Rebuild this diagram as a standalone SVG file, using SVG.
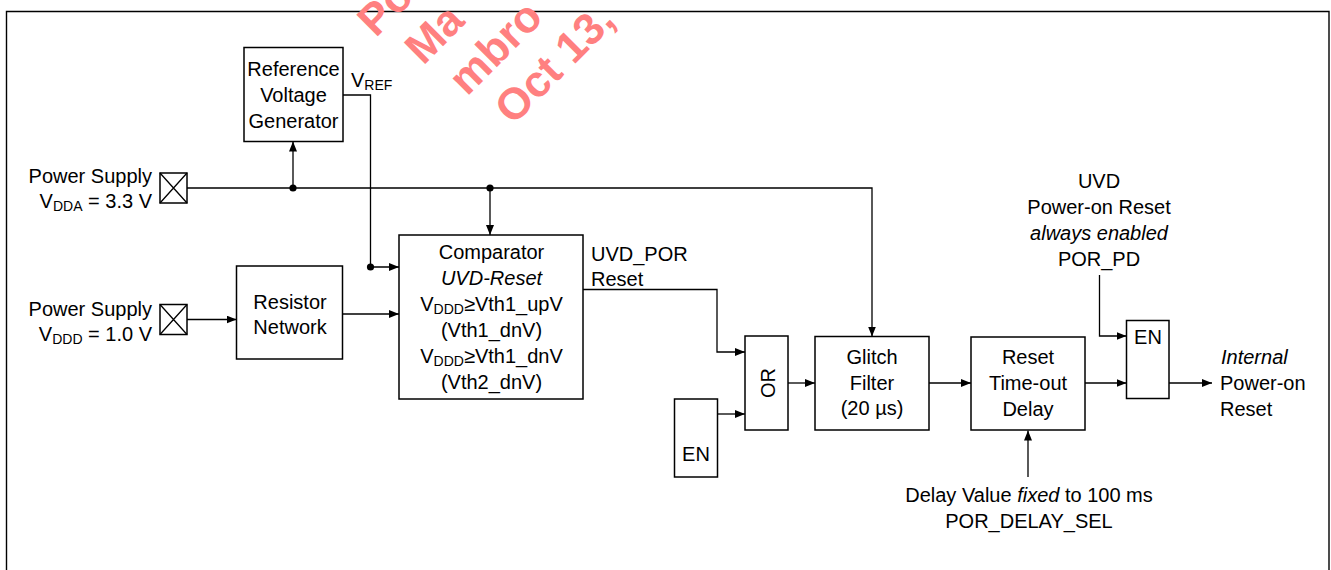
<svg xmlns="http://www.w3.org/2000/svg" width="1331" height="570" viewBox="0 0 1331 570">
<defs>
<style>
.t{font-family:"Liberation Sans",Arial,sans-serif;font-size:20px;fill:#000}
.m{text-anchor:middle}
.e{text-anchor:end}
.i{font-style:italic}
.box{fill:#fff;stroke:#000;stroke-width:1.5}
.ln{fill:none;stroke:#000;stroke-width:1.3}
.wm{font-family:"Liberation Sans",Arial,sans-serif;font-size:44px;font-weight:bold;fill:#ff8080}
</style>
<marker id="arr" markerUnits="userSpaceOnUse" markerWidth="10" markerHeight="8" refX="10" refY="4" orient="auto">
<path d="M0,0 L10,4 L0,8 z" fill="#000"/>
</marker>
</defs>
<rect width="1331" height="570" fill="#fff"/>
<path d="M6.5,575 V11.5 H1329 V575" fill="none" stroke="#000" stroke-width="1.4"/>

<g id="connectors">
<path class="ln" d="M187,188 H872 V336.5" marker-end="url(#arr)"/>
<path class="ln" d="M293,188 V141.5" marker-end="url(#arr)"/>
<path class="ln" d="M490,188 V235" marker-end="url(#arr)"/>
<path class="ln" d="M343,95 H370.5 V267 H399" marker-end="url(#arr)"/>
<path class="ln" d="M187,319.5 H236.5" marker-end="url(#arr)"/>
<path class="ln" d="M343,314 H399" marker-end="url(#arr)"/>
<path class="ln" d="M583,289.5 H717 V352 H745" marker-end="url(#arr)"/>
<path class="ln" d="M717,414 H745" marker-end="url(#arr)"/>
<path class="ln" d="M788,383 H815" marker-end="url(#arr)"/>
<path class="ln" d="M929,383 H971" marker-end="url(#arr)"/>
<path class="ln" d="M1085,383 H1126.5" marker-end="url(#arr)"/>
<path class="ln" d="M1099.5,275 V336 H1126.5" marker-end="url(#arr)"/>
<path class="ln" d="M1169,383 H1212" marker-end="url(#arr)"/>
<path class="ln" d="M1028,477 V430.5" marker-end="url(#arr)"/>
<circle cx="293" cy="188" r="3.6" fill="#000"/>
<circle cx="490" cy="188" r="3.6" fill="#000"/>
<circle cx="370.5" cy="267" r="3.6" fill="#000"/>
</g>

<g id="vdda">
<rect class="box" x="160" y="173" width="27" height="30"/>
<path class="ln" d="M160,173 L187,203 M187,173 L160,203"/>
<text class="t e" x="152" y="183">Power Supply</text>
<text class="t e" x="152" y="208">V<tspan font-size="14" dy="3">DDA</tspan><tspan dy="-3"> = 3.3 V</tspan></text>
</g>

<g id="vdd">
<rect class="box" x="160" y="304.5" width="27" height="30"/>
<path class="ln" d="M160,304.5 L187,334.5 M187,304.5 L160,334.5"/>
<text class="t e" x="152" y="316">Power Supply</text>
<text class="t e" x="152" y="341">V<tspan font-size="14" dy="3">DDD</tspan><tspan dy="-3"> = 1.0 V</tspan></text>
</g>

<g id="refgen">
<rect class="box" x="244" y="47.5" width="99" height="94"/>
<text class="t m" x="293.5" y="76">Reference</text>
<text class="t m" x="293.5" y="102">Voltage</text>
<text class="t m" x="293.5" y="128">Generator</text>
<text class="t" x="351" y="87">V<tspan font-size="14" dy="3">REF</tspan></text>
</g>

<g id="resistor">
<rect class="box" x="236.5" y="266" width="106" height="93"/>
<text class="t m" x="290" y="309">Resistor</text>
<text class="t m" x="290" y="334">Network</text>
</g>

<g id="comparator">
<rect class="box" x="399" y="235" width="184" height="164"/>
<text class="t m" x="491.5" y="259">Comparator</text>
<text class="t m i" x="491.5" y="285">UVD-Reset</text>
<text class="t m" x="491.5" y="311">V<tspan font-size="14" dy="3">DDD</tspan><tspan dy="-3">≥Vth1_upV</tspan></text>
<text class="t m" x="491.5" y="337">(Vth1_dnV)</text>
<text class="t m" x="491.5" y="363">V<tspan font-size="14" dy="3">DDD</tspan><tspan dy="-3">≥Vth1_dnV</tspan></text>
<text class="t m" x="491.5" y="389">(Vth2_dnV)</text>
<text class="t" x="591" y="261">UVD_POR</text>
<text class="t" x="591" y="286">Reset</text>
</g>

<g id="en1">
<rect class="box" x="674.5" y="399" width="43" height="78"/>
<text class="t m" x="696" y="461">EN</text>
</g>

<g id="or">
<rect class="box" x="745" y="336" width="43" height="94"/>
<text class="t m" transform="translate(775,383) rotate(-90)" x="0" y="0">OR</text>
</g>

<g id="glitch">
<rect class="box" x="815" y="336.5" width="114" height="93.5"/>
<text class="t m" x="872" y="364">Glitch</text>
<text class="t m" x="872" y="390">Filter</text>
<text class="t m" x="872" y="415">(20 µs)</text>
</g>

<g id="delay">
<rect class="box" x="971" y="337" width="114" height="93"/>
<text class="t m" x="1028" y="364">Reset</text>
<text class="t m" x="1028" y="390">Time-out</text>
<text class="t m" x="1028" y="416">Delay</text>
<text class="t m" x="1029" y="502">Delay Value <tspan class="i">fixed</tspan> to 100 ms</text>
<text class="t m" x="1029" y="528">POR_DELAY_SEL</text>
</g>

<g id="en2">
<rect class="box" x="1126.5" y="320.5" width="42.5" height="78"/>
<text class="t m" x="1148" y="344">EN</text>
<text class="t m" x="1099" y="188">UVD</text>
<text class="t m" x="1099" y="214">Power-on Reset</text>
<text class="t m i" x="1099" y="240">always enabled</text>
<text class="t m" x="1099" y="266">POR_PD</text>
</g>

<g id="output">
<text class="t i" x="1221" y="364">Internal</text>
<text class="t" x="1220" y="390">Power-on</text>
<text class="t" x="1220" y="416">Reset</text>
</g>

<g id="watermark" transform="translate(513,126) rotate(-45)">
<text class="wm" x="-35" y="-159">Po</text>
<text class="wm" x="-21" y="-106">Ma</text>
<text class="wm" x="-12" y="-53">mbro</text>
<text class="wm" x="0" y="0">Oct 13,</text>
</g>
</svg>
